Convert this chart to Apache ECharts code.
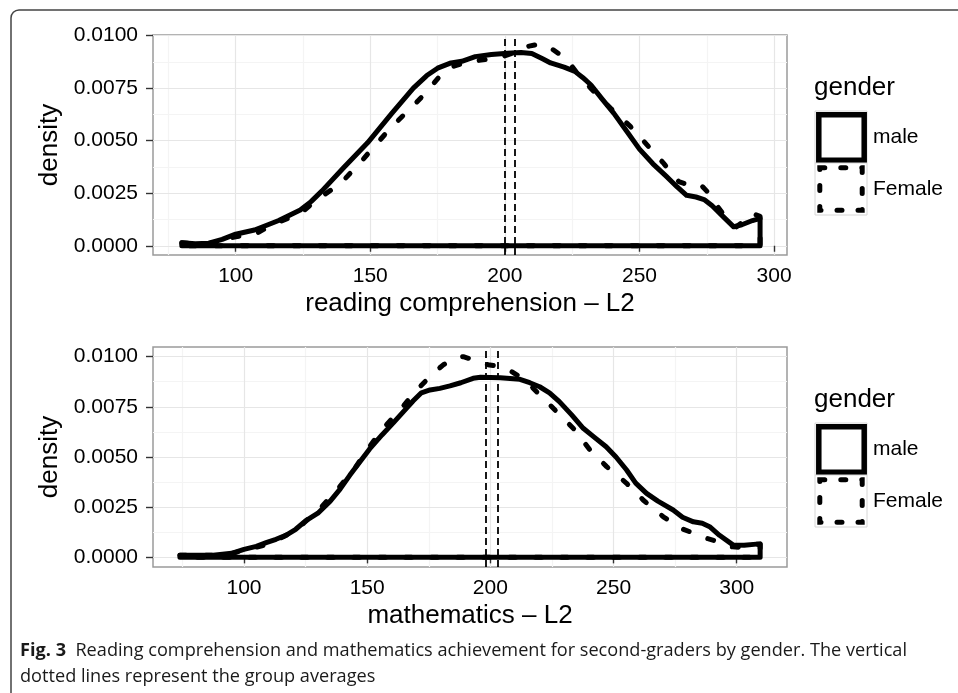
<!DOCTYPE html>
<html><head><meta charset="utf-8">
<script src="https://cdn.jsdelivr.net/npm/echarts@6/dist/echarts.min.js"></script>
<style>html,body{margin:0;padding:0;background:#fff}#c{width:958px;height:693px}</style>
</head><body><div id="c"></div>
<script>
// ---------- data ----------
const readingMale = [[80,0.00014],[85,0.0001],[90,0.00012],[95,0.0003],[100,0.00055],[107,0.00075],[112,0.001],[116,0.0012],[124,0.0017],[128,0.0021],[132,0.0026],[140,0.0037],[149,0.0049],[158,0.0063],[166,0.0075],[171,0.0081],[175,0.00845],[180,0.0087],[184,0.00878],[189,0.009],[195,0.0091],[201,0.00916],[206,0.0092],[210,0.00915],[214,0.0089],[217,0.0087],[222,0.0085],[226,0.0083],[229,0.008],[232,0.00765],[236,0.007],[240.5,0.0063],[245,0.0055],[250,0.0046],[255,0.0039],[260,0.0033],[264,0.0028],[267.5,0.0024],[271,0.00232],[274,0.0022],[277,0.0019],[281,0.0014],[285,0.0009],[288,0.001],[292,0.0012],[294.8,0.0013]];
const readingFemale = [[80,0.00014],[85,0.0001],[90,0.0001],[95,0.00025],[100,0.00043],[108,0.0006],[112,0.0009],[116,0.00113],[124,0.00154],[131,0.00226],[139,0.00297],[146,0.00392],[152,0.0048],[158,0.00567],[165,0.00654],[171,0.00733],[176,0.0081],[180,0.0085],[186,0.00875],[194,0.00888],[199,0.009],[204.7,0.00924],[209,0.0095],[212.7,0.0096],[216,0.0095],[220.7,0.00908],[224,0.0087],[226.9,0.0082],[233.1,0.00733],[239.3,0.00654],[246.7,0.00567],[252.8,0.0048],[259,0.00392],[264.6,0.00305],[268,0.0029],[272.6,0.00292],[275,0.0026],[278.1,0.00202],[283.7,0.00107],[286,0.0009],[289,0.0012],[291.7,0.00154],[294.8,0.0014]];
const mathMale = [[74,0.00011],[80,0.0001],[87.5,0.0001],[95,0.0002],[100,0.0004],[105,0.00055],[109,0.00073],[113,0.0009],[117,0.0011],[121,0.0014],[125,0.00182],[130,0.0022],[135,0.0028],[139,0.0034],[143,0.0041],[147,0.00475],[151,0.0054],[156,0.0061],[160.6,0.0067],[165,0.0073],[168.7,0.0078],[172,0.0082],[175.5,0.00834],[179.5,0.00842],[183.6,0.00854],[188,0.0087],[193,0.00892],[196,0.00897],[204,0.00895],[212,0.00887],[216,0.0087],[220,0.0085],[224,0.0082],[228,0.00776],[233,0.0071],[237.7,0.00643],[242,0.006],[247,0.00551],[251,0.005],[255.3,0.00435],[259,0.0037],[263.4,0.00319],[268,0.0028],[274.2,0.00236],[278,0.002],[282.4,0.00177],[286,0.0017],[289,0.00153],[293,0.0011],[298.6,0.00061],[303,0.0006],[308,0.00066],[309.5,0.00066]];
const mathFemale = [[74,0.00011],[80,0.0001],[87,0.0001],[95,0.0002],[100,0.00035],[108,0.0006],[112,0.0008],[116,0.00103],[120,0.0013],[124.2,0.0017],[131.5,0.00252],[138.3,0.00344],[145,0.00444],[150.4,0.00543],[156.5,0.00643],[163.3,0.00734],[170.1,0.00834],[176.8,0.00917],[181,0.0096],[185,0.00992],[189,0.01],[194,0.0098],[199,0.0096],[204,0.0095],[208,0.0093],[212,0.009],[216,0.0086],[220.1,0.00809],[226.9,0.00726],[234.3,0.00635],[240.4,0.00535],[247.2,0.00452],[255.3,0.00369],[262,0.00286],[270.2,0.00202],[278.3,0.0014],[287.7,0.00095],[292,0.0008],[297.2,0.00053],[302,0.0005],[306.7,0.0006],[309.5,0.00066]];
const readingMeans = [200.0, 203.6];
const mathMeans = [198.1, 202.8];
const xTicks = [100, 150, 200, 250, 300];
const xMinorTicks = [75, 125, 175, 225, 275];
const yTicks = [0, 0.0025, 0.005, 0.0075, 0.01];
const yMinorTicks = [0.00125, 0.00375, 0.00625, 0.00875];
const xTitles = ['reading comprehension \u2013 L2', 'mathematics \u2013 L2'];
const yTitle = 'density';
const legendTitle = 'gender';
const legendLabels = ['male', 'Female'];
const captionBold = 'Fig. 3';
const captionLine1 = 'Reading comprehension and mathematics achievement for second-graders by gender. The vertical';
const captionLine2 = 'dotted lines represent the group averages';

// ---------- helpers ----------
const F = '"Liberation Sans", Arial, Helvetica, sans-serif';
function closed(pts) {
  const f = pts[0], l = pts[pts.length - 1];
  return pts.concat([[l[0], 0], [f[0], 0], [f[0], f[1]]]);
}
const panels = [
  { top: 35, xmin: 69.3, xmax: 304.8, ymin: -0.00044, ymax: 0.01003 },
  { top: 347, xmin: 63.07, xmax: 320.4, ymin: -0.00048, ymax: 0.01048 }
];
const G = { left: 153, width: 634, height: 220 };

const grids = panels.map(p => ({ left: G.left, top: p.top, width: G.width, height: G.height, show: true, borderColor: '#9a9a9a', borderWidth: 1.5, backgroundColor: 'transparent', containLabel: false }));

const xAxes = [], yAxes = [];
panels.forEach((p, i) => {
  xAxes.push({
    type: 'value', gridIndex: i, min: p.xmin, max: p.xmax,
    name: xTitles[i], nameLocation: 'middle', nameGap: 36,
    nameTextStyle: { fontSize: 26, color: '#000', fontFamily: F },
    axisLine: { show: false },
    axisTick: { show: true, length: 6, lineStyle: { color: '#333', width: 1.4 }, customValues: xTicks },
    axisLabel: { customValues: xTicks, fontSize: 21, color: '#000', margin: 11, fontFamily: F },
    splitLine: { show: true, lineStyle: { color: '#e6e6e6', width: 1.2 } },
    z: 1
  });
  yAxes.push({
    type: 'value', gridIndex: i, min: p.ymin, max: p.ymax,
    name: yTitle, nameLocation: 'middle', nameGap: 90,
    nameTextStyle: { fontSize: 26, color: '#000', fontFamily: F },
    axisLine: { show: false },
    axisTick: { show: true, length: 7, lineStyle: { color: '#333', width: 1.4 }, customValues: yTicks },
    axisLabel: { customValues: yTicks, fontSize: 21, color: '#000', margin: 15, fontFamily: F, formatter: v => v.toFixed(4) },
    splitLine: { show: true, lineStyle: { color: '#e6e6e6', width: 1.2 } },
    z: 1
  });
});
panels.forEach((p, i) => {
  xAxes.push({
    type: 'value', gridIndex: i, min: p.xmin, max: p.xmax,
    axisLine: { show: false }, axisLabel: { show: false },
    axisTick: { show: false, customValues: xMinorTicks },
    splitLine: { show: true, lineStyle: { color: '#f4f4f4', width: 1.2 } }, z: 0
  });
  yAxes.push({
    type: 'value', gridIndex: i, min: p.ymin, max: p.ymax,
    axisLine: { show: false }, axisLabel: { show: false },
    axisTick: { show: false, customValues: yMinorTicks },
    splitLine: { show: true, lineStyle: { color: '#f4f4f4', width: 1.2 } }, z: 0
  });
});

function curve(name, data, gi, dashed, means) {
  const s = {
    name, type: 'line', xAxisIndex: gi, yAxisIndex: gi,
    data: closed(data), showSymbol: false, symbol: 'none', smooth: false,
    silent: true, animation: false, z: 3,
    lineStyle: dashed
      ? { color: '#000', width: 5, type: [6, 20], cap: 'round', join: 'round' }
      : { color: '#000', width: 5, cap: 'round', join: 'round' }
  };
  if (means) {
    s.markLine = {
      silent: true, symbol: 'none', animation: false,
      label: { show: false },
      lineStyle: { color: '#000', width: 1.8, type: [7, 4] },
      data: means.map(m => ({ xAxis: m }))
    };
  }
  return s;
}

const series = [
  curve('male', readingMale, 0, false, null),
  curve('Female', readingFemale, 0, true, readingMeans),
  curve('male', mathMale, 1, false, null),
  curve('Female', mathFemale, 1, true, mathMeans)
];

// legend drawn as graphics (keys like ggplot)
const graphics = [];
panels.forEach((p, i) => {
  const dy = i * 312;
  graphics.push({ type: 'text', x: 814, y: 88 + dy, style: { text: legendTitle, font: '26px ' + F, fill: '#000', textVerticalAlign: 'middle' } });
  graphics.push({ type: 'rect', shape: { x: 815, y: 111 + dy, width: 52, height: 52 }, style: { fill: '#fff', stroke: '#d6d6d6', lineWidth: 1 } });
  graphics.push({ type: 'rect', shape: { x: 818.8, y: 114.8 + dy, width: 45.4, height: 45.4 }, style: { fill: 'none', stroke: '#000', lineWidth: 5.5 } });
  graphics.push({ type: 'rect', shape: { x: 815, y: 163 + dy, width: 52, height: 52 }, style: { fill: '#fff', stroke: '#d6d6d6', lineWidth: 1 } });
  graphics.push({ type: 'rect', shape: { x: 819.8, y: 167.8 + dy, width: 42.4, height: 42.4 }, style: { fill: 'none', stroke: '#000', lineWidth: 5, lineDash: [5, 16], lineCap: 'round' } });
  graphics.push({ type: 'text', x: 873, y: 137 + dy, style: { text: legendLabels[0], font: '21px ' + F, fill: '#000', textVerticalAlign: 'middle' } });
  graphics.push({ type: 'text', x: 873, y: 189 + dy, style: { text: legendLabels[1], font: '21px ' + F, fill: '#000', textVerticalAlign: 'middle' } });
});
// figure frame
graphics.push({ type: 'rect', shape: { x: 11, y: 10, width: 1200, height: 1000, r: 8 }, style: { fill: 'none', stroke: '#444', lineWidth: 1.5 }, z: -1 });

// caption (condensed to the reference width)
const capFont = '"Open Sans", "Liberation Sans", sans-serif';
const capSize = 18;
const cv = document.createElement('canvas').getContext('2d');
cv.font = 'bold ' + capSize + 'px ' + capFont;
const wb = cv.measureText(captionBold).width;
cv.font = capSize + 'px ' + capFont;
const wr = cv.measureText('  ' + captionLine1).width;
const sx = 887 / (wb + wr);
graphics.push({ type: 'text', x: 20, y: 651, scaleX: sx, style: {
  text: '{b|' + captionBold + '}  ' + captionLine1,
  font: capSize + 'px ' + capFont, fill: '#1a1a1a', textVerticalAlign: 'middle',
  rich: { b: { fontWeight: 'bold', fontSize: capSize, fontFamily: capFont, fill: '#1a1a1a' } }
} });
graphics.push({ type: 'text', x: 20, y: 677, scaleX: sx, style: { text: captionLine2, font: capSize + 'px ' + capFont, fill: '#1a1a1a', textVerticalAlign: 'middle' } });

const chart = echarts.init(document.getElementById('c'), null, { renderer: 'canvas' });
chart.setOption({
  backgroundColor: '#fff',
  animation: false,
  grid: grids,
  xAxis: xAxes,
  yAxis: yAxes,
  series: series,
  graphic: graphics
});
</script></body></html>
